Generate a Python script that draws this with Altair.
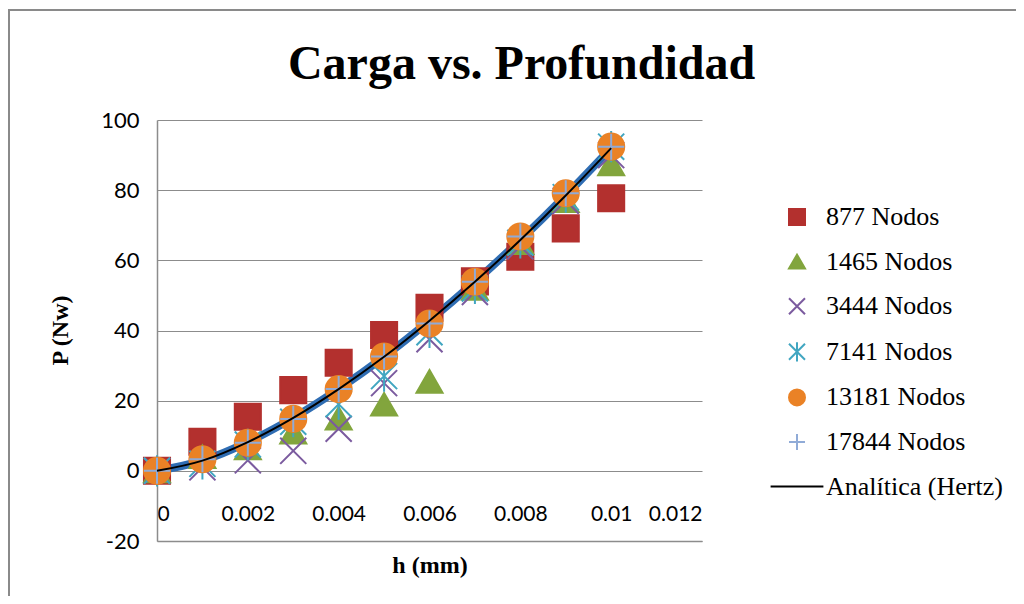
import altair as alt
import pandas as pd

# ---- data ----
h = [0.0, 0.001, 0.002, 0.003, 0.004, 0.005, 0.006, 0.007, 0.008, 0.009, 0.010]
p877 = [0.0, 8.3, 15.4, 23.0, 30.8, 38.7, 46.5, 54.0, 61.0, 69.1, 77.7]
p1465 = [0.0, 4.0, 6.5, 11.0, 15.0, 19.0, 25.5, 52.0, 65.0, 77.0, 87.5]
p3444 = [0.0, 1.0, 3.0, 5.7, 12.0, 25.0, 37.5, 51.0, 64.0, 77.0, 90.0]
p7141 = [0.0, 2.0, 7.5, 14.0, 19.0, 27.0, 39.5, 52.0, 65.0, 78.0, 92.4]
p13181 = [0.0, 3.3, 8.0, 14.8, 23.3, 32.6, 42.0, 53.9, 66.8, 79.1, 92.4]
p17844 = [0.0, 3.3, 8.0, 14.8, 23.3, 32.6, 42.0, 53.9, 66.8, 79.1, 92.4]
hertz = [0.0, 2.9, 8.2, 15.1, 23.3, 32.5, 42.8, 53.9, 65.8, 78.5, 92.0]

series_names = ["877 Nodos", "1465 Nodos", "3444 Nodos", "7141 Nodos",
                "13181 Nodos", "17844 Nodos"]
line_name = "Analítica (Hertz)"
series_values = [p877, p1465, p3444, p7141, p13181, p17844]

y_ticks = [-20, 0, 20, 40, 60, 80, 100]
x_ticks = [0, 0.002, 0.004, 0.006, 0.008, 0.01, 0.012]

colors = ["#B3302E", "#82A53D", "#7B5B9F", "#41A6C1", "#EA8226", "#90ABD7", "#000000"]
shapes = ["square", "triangle-up",
          "M-1,-1L1,1M-1,1L1,-1",
          "M-1,-1L1,1M-1,1L1,-1M0,-1.2L0,1.2",
          "circle",
          "M-1,0L1,0M0,-1L0,1",
          "M-3.3,0L3.3,0"]

rows = []
for name, vals in zip(series_names, series_values):
    for xv, yv in zip(h, vals):
        rows.append({"h": xv, "P": yv, "serie": name})
pts = pd.DataFrame(rows)
ana = pd.DataFrame({"h": h, "P": hertz, "serie": line_name})

domain = series_names + [line_name]

xenc = alt.X("h:Q", scale=alt.Scale(domain=[0, 0.012], nice=False),
             axis=alt.Axis(values=x_ticks, grid=False, ticks=False,
                           domainColor="#8c8c8c", domainWidth=1.5,
                           labelFont="Lato", labelFontSize=21, labelColor="black",
                           labelPadding=-38, labelExpr="format(datum.value, '~g')",
                           title="h (mm)", titleFont="Liberation Serif",
                           titleFontSize=24, titleFontWeight="bold", titleColor="black",
                           titleBaseline="top", titleY=12))
yenc = alt.Y("P:Q", scale=alt.Scale(domain=[-20, 100], nice=False),
             axis=alt.Axis(values=y_ticks, grid=True, gridColor="#8c8c8c", gridWidth=1.2,
                           ticks=False, domainColor="#8c8c8c", domainWidth=1.5,
                           labelFont="Lato", labelFontSize=22, labelColor="black",
                           labelPadding=18,
                           labelExpr="datum.value < 0 ? '-' + format(-datum.value, 'd') : format(datum.value, 'd')",
                           title="P (Nw)", titleFont="Liberation Serif",
                           titleFontSize=24, titleFontWeight="bold", titleColor="black",
                           titleAngle=270, titleAlign="center", titleBaseline="middle",
                           titleX=-97, titleY=210))

color_scale = alt.Scale(domain=domain, range=colors)
shape_scale = alt.Scale(domain=domain, range=shapes)

band = alt.Chart(ana).mark_line(color="#2F6DB3", strokeWidth=8, interpolate="monotone").encode(
    x=xenc, y=yenc)

points = alt.Chart(pts).mark_point(filled=True, size=680, strokeWidth=2, opacity=1).encode(
    x=xenc, y=yenc,
    color=alt.Color("serie:N", scale=color_scale, title=None),
    stroke=alt.Stroke("serie:N", scale=color_scale, title=None),
    shape=alt.Shape("serie:N", scale=shape_scale, title=None),
)

line = alt.Chart(ana).mark_line(strokeWidth=2, interpolate="monotone").encode(
    x=xenc, y=yenc,
    color=alt.Color("serie:N", scale=color_scale, title=None),
)

frame = alt.Chart(ana).mark_rect(fill=None, stroke="#8a8a8a", strokeWidth=1.5).encode(
    x=alt.value(-148), x2=alt.value(900), y=alt.value(-110), y2=alt.value(520))

chart = alt.layer(frame, band, points, line).properties(
    width=545, height=421,
    title=alt.Title("Carga vs. Profundidad", baseline="alphabetic", dy=122),
    padding={"left": 149, "top": 112, "right": 314, "bottom": 55},
    autosize=alt.AutoSizeParams(type="none"),
).configure_view(stroke=None).configure_title(
    font="Liberation Serif", fontSize=48, fontWeight="bold", color="black",
    anchor="middle", dx=92, offset=0,
).configure_legend(
    orient="none", legendX=627, legendY=84, padding=0,
    symbolSize=256, symbolStrokeWidth=2,
    labelFont="Liberation Serif", labelFontSize=26, labelColor="black",
    labelOffset=16, rowPadding=18.6, labelLimit=400,
)

chart.save("out.html", embed_options={"renderer": "svg", "actions": False})
